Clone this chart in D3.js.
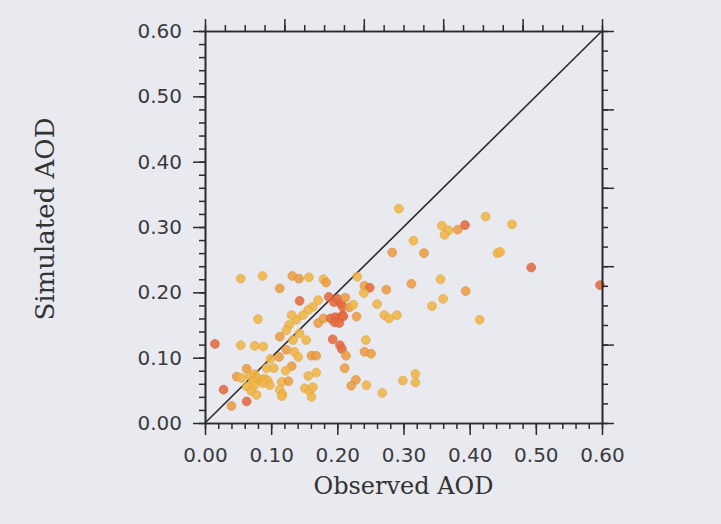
<!DOCTYPE html>
<html>
<head>
<meta charset="utf-8">
<script src="https://cdn.jsdelivr.net/npm/d3@7"></script>
<style>
  html, body { margin: 0; padding: 0; background: #e8eaf0; }
  svg { display: block; }
</style>
</head>
<body>
<svg id="chart" width="721" height="524"></svg>
<script>
// ---- data ----
const observedAOD = [
  0.054,0.087,0.132,0.142,0.157,0.179,0.183,0.113,0.230,0.143,
  0.187,0.195,0.200,0.205,0.212,0.208,0.218,0.171,0.163,0.156,
  0.148,0.138,0.131,0.080,0.171,0.179,0.190,0.197,0.203,0.208,
  0.196,0.203,0.229,0.127,0.123,0.143,0.113,0.133,0.153,0.015,
  0.054,0.075,0.088,0.193,0.204,0.207,0.213,0.123,0.135,0.141,
  0.161,0.168,0.112,0.099,0.093,0.104,0.063,0.131,0.122,0.168,
  0.156,0.048,0.055,0.068,0.075,0.080,0.073,0.075,0.085,0.090,
  0.095,0.088,0.098,0.116,0.126,0.063,0.070,0.078,0.113,0.117,
  0.116,0.151,0.158,0.163,0.161,0.028,0.040,0.063,0.211,0.228,
  0.221,0.293,0.424,0.464,0.358,0.368,0.362,0.382,0.393,0.315,
  0.283,0.331,0.442,0.446,0.493,0.597,0.356,0.312,0.394,0.360,
  0.343,0.415,0.241,0.249,0.240,0.274,0.224,0.260,0.271,0.278,
  0.290,0.209,0.243,0.241,0.251,0.244,0.268,0.299,0.318,0.318
];
const simulatedAOD = [
  0.221,0.225,0.225,0.221,0.223,0.220,0.215,0.206,0.224,0.187,
  0.193,0.185,0.190,0.183,0.192,0.178,0.177,0.188,0.178,0.173,
  0.165,0.158,0.165,0.159,0.153,0.160,0.160,0.162,0.160,0.165,
  0.154,0.153,0.163,0.150,0.142,0.137,0.132,0.127,0.127,0.121,
  0.119,0.118,0.117,0.128,0.119,0.113,0.103,0.112,0.109,0.101,
  0.103,0.103,0.101,0.098,0.084,0.084,0.083,0.087,0.080,0.077,
  0.072,0.071,0.069,0.072,0.075,0.068,0.064,0.058,0.066,0.068,
  0.065,0.061,0.058,0.063,0.064,0.056,0.049,0.043,0.051,0.044,
  0.041,0.053,0.049,0.055,0.040,0.051,0.026,0.033,0.084,0.066,
  0.057,0.328,0.316,0.304,0.302,0.295,0.288,0.296,0.303,0.279,
  0.261,0.260,0.260,0.262,0.238,0.211,0.220,0.213,0.202,0.190,
  0.179,0.158,0.210,0.207,0.199,0.204,0.181,0.182,0.165,0.160,
  0.165,0.163,0.127,0.109,0.106,0.058,0.046,0.065,0.075,0.062
];
// colour tone of each dot: 0 = yellow-orange, 1 = orange, 2 = red-orange
const dotTone = [
  0,0,1,1,0,0,1,1,0,2,
  2,2,2,2,1,2,1,0,0,0,
  0,0,0,0,1,1,2,2,2,2,
  2,2,1,0,0,0,1,0,0,2,
  0,0,0,2,2,2,1,1,0,0,
  1,1,1,0,0,0,1,1,0,0,
  0,1,0,0,0,0,0,0,0,0,
  0,0,0,0,1,0,0,0,0,0,
  0,0,0,0,0,2,1,2,1,1,
  1,0,0,0,0,0,0,1,2,0,
  1,1,0,0,2,2,0,1,1,0,
  0,0,1,2,0,1,0,0,0,0,
  0,2,0,1,1,0,0,0,0,0
];
const axisTickLabels = ["0.00","0.10","0.20","0.30","0.40","0.50","0.60"];
const majorTicks = [0, 0.1, 0.2, 0.3, 0.4, 0.5, 0.6];
const minorStep = 0.02;
const oppositeMajorStep = 0.12;
const oppositeMinorStep = 0.03;
const xTitle = "Observed AOD";
const yTitle = "Simulated AOD";

// ---- layout ----
const svg = d3.select("#chart");
const plotL = 205, plotR = 602, plotT = 31, plotB = 423;
const x = d3.scaleLinear().domain([0, 0.6]).range([plotL, plotR]);
const y = d3.scaleLinear().domain([0, 0.6]).range([plotB, plotT]);
const ink = "#2b2b2e";

svg.append("rect").attr("width", 721).attr("height", 524).attr("fill", "#e8eaf0");

function steps(step) {
  const n = Math.round(0.6 / step);
  return d3.range(n + 1).map(i => +(i * step).toFixed(4));
}

// diagonal 1:1 line
svg.append("line")
  .attr("x1", x(0)).attr("y1", y(0)).attr("x2", x(0.6)).attr("y2", y(0.6))
  .attr("stroke", ink).attr("stroke-width", 1.6);

// points
const toneColor = d3.scaleOrdinal().domain([0,1,2]).range(["#f0b648", "#ec9e42", "#e56c40"]);
const toneStroke = d3.scaleOrdinal().domain([0,1,2]).range(["#e4a43c", "#de8c38", "#d85e36"]);
svg.append("g").selectAll("circle")
  .data(observedAOD.map((v, i) => ({x: v, y: simulatedAOD[i], t: dotTone[i]})))
  .join("circle")
  .attr("cx", d => x(d.x)).attr("cy", d => y(d.y)).attr("r", 4.4)
  .attr("fill", d => toneColor(d.t))
  .attr("stroke", d => toneStroke(d.t)).attr("stroke-width", 0.8)
  .attr("opacity", 0.88);

function styleAxis(g) {
  g.selectAll("path.domain").attr("stroke", ink).attr("stroke-width", 1.6);
  g.selectAll("line").attr("stroke", ink).attr("stroke-width", 1.5);
  g.selectAll("text").attr("fill", "#3a3a3e").attr("font-family", "DejaVu Sans").attr("font-size", 20);
}

// bottom
svg.append("g").attr("transform", `translate(0,${plotB})`)
  .call(d3.axisBottom(x).tickValues(steps(minorStep)).tickSize(6).tickSizeOuter(0).tickFormat(""))
  .call(styleAxis);
svg.append("g").attr("transform", `translate(0,${plotB})`)
  .call(d3.axisBottom(x).tickValues(majorTicks).tickSize(12).tickSizeOuter(0).tickPadding(13)
    .tickFormat((d, i) => axisTickLabels[i]))
  .call(styleAxis);
// left
svg.append("g").attr("transform", `translate(${plotL},0)`)
  .call(d3.axisLeft(y).tickValues(steps(minorStep)).tickSize(6).tickSizeOuter(0).tickFormat(""))
  .call(styleAxis);
svg.append("g").attr("transform", `translate(${plotL},0)`)
  .call(d3.axisLeft(y).tickValues(majorTicks).tickSize(12).tickSizeOuter(0).tickPadding(11)
    .tickFormat((d, i) => axisTickLabels[i]))
  .call(styleAxis);
// top
svg.append("g").attr("transform", `translate(0,${plotT})`)
  .call(d3.axisTop(x).tickValues(steps(oppositeMinorStep)).tickSize(6).tickSizeOuter(0).tickFormat(""))
  .call(styleAxis);
svg.append("g").attr("transform", `translate(0,${plotT})`)
  .call(d3.axisTop(x).tickValues(steps(oppositeMajorStep)).tickSize(12).tickSizeOuter(0).tickFormat(""))
  .call(styleAxis);
// right
svg.append("g").attr("transform", `translate(${plotR},0)`)
  .call(d3.axisRight(y).tickValues(steps(oppositeMinorStep)).tickSize(6).tickSizeOuter(0).tickFormat(""))
  .call(styleAxis);
svg.append("g").attr("transform", `translate(${plotR},0)`)
  .call(d3.axisRight(y).tickValues(steps(oppositeMajorStep)).tickSize(12).tickSizeOuter(0).tickFormat(""))
  .call(styleAxis);

// titles
svg.append("text")
  .attr("x", (plotL + plotR) / 2).attr("y", 494)
  .attr("text-anchor", "middle")
  .attr("font-family", "DejaVu Serif").attr("font-size", 24).attr("fill", "#333")
  .text(xTitle);
svg.append("text")
  .attr("transform", `translate(54,219) rotate(-90)`)
  .attr("text-anchor", "middle")
  .attr("font-family", "DejaVu Serif").attr("font-size", 26).attr("fill", "#333")
  .text(yTitle);
</script>
</body>
</html>
